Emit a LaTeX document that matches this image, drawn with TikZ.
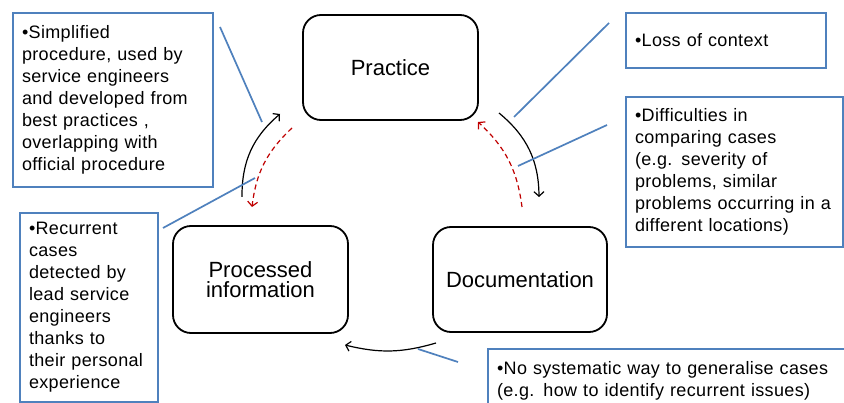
\documentclass[tikz,border=0pt]{standalone}
\usepackage{fontspec}
\setmainfont{Liberation Sans}
\newfontfamily\notefont{Liberation Sans}[LetterSpace=2]
\usepackage{xcolor}
\usepackage{tikz}
\usetikzlibrary{arrows.meta, calc}
\definecolor{CycleBlue}{RGB}{79, 129, 189}
\definecolor{CycleRed}{RGB}{192, 0, 0}

\tikzset{
  stage/.style={draw=black, line width=1.8pt, rounded corners=18pt, fill=white,
    align=center, minimum width=175pt, minimum height=105pt,
    font=\fontsize{22}{20}\selectfont},
  note/.style={draw=CycleBlue, line width=1.7pt, fill=white, align=left,
    inner xsep=9pt, font=\notefont\fontsize{18}{22}\selectfont},
  flow/.style={line width=1.2pt, -{Straight Barb[length=4.5pt,width=10pt]}},
  backflow/.style={flow, CycleRed, dash pattern=on 5pt off 3.5pt},
  pointer/.style={CycleBlue, line width=1.7pt},
}

\begin{document}
\begin{tikzpicture}[x=1pt, y=-1pt]
    \fill[white] (0,0) rectangle (844,403);
    \useasboundingbox (0,0) rectangle (844,403);

    % the three stages of the cycle
    \node[stage] (practice) at (390.5,67.5) {Practice};
    \node[stage, minimum height=107pt] (processed) at (260.5,279.5) {Processed\\information};
    \node[stage, minimum width=174pt] (documentation) at (520,279.5) {Documentation};

    % remarks
    \node[note, text width=182pt, minimum height=174pt] (noteSimplified) at (113,100) {%
      •Simplified\\procedure, used by\\service engineers\\and developed from\\best practices ,\\overlapping with\\official procedure};
    \node[note, text width=120pt, minimum height=189pt] (noteRecurrent) at (89,307.5) {%
      •Recurrent\\cases\\detected by\\lead service\\engineers\\thanks to\\their personal\\experience};
    \node[note, text width=182pt, minimum height=55pt] (noteLoss) at (726,40.5) {•Loss of context};
    \node[note, text width=199pt, minimum height=150pt] (noteCompare) at (734.5,172) {%
      •Difficulties in\\comparing cases\\(e.g. severity of\\problems, similar\\problems occurring in a\\different locations)};
    \node[note, text width=354pt, minimum height=64pt] (noteGeneral) at (674,381) {%
      •No systematic way to generalise cases\\(e.g. how to identify recurrent issues)};

    % ends of the arrows
    \coordinate (upFrom) at (242,197);
    \coordinate (upTo) at (280,114);
    \coordinate (downFrom) at (292,128);
    \coordinate (downTo) at (252,207);
    \coordinate (docFrom) at (499,113);
    \coordinate (docTo) at (539,197);
    \coordinate (backFrom) at (522,207);
    \coordinate (backTo) at (478,122);
    \coordinate (procFrom) at (436,343);
    \coordinate (procTo) at (345,345);

    \draw[flow] (upFrom) to[bend left=25] (upTo);
    \draw[backflow] (downFrom) to[bend right=20] (downTo);
    \draw[flow] (docFrom) to[bend left=25] (docTo);
    \draw[backflow] (backFrom) to[bend right=20] (backTo);
    \draw[flow] (procFrom) to[bend left=15] (procTo);

    % pointers from the remarks
    \coordinate (ptSimplified) at (220,27);
    \coordinate (ptRecurrent) at (163,228);
    \coordinate (ptLoss) at (609,23);
    \coordinate (ptCompare) at (607,125);
    \coordinate (ptGeneral) at (458,362);

    \draw[pointer] (ptSimplified) -- (262,122);
    \draw[pointer] (ptRecurrent) -- (255,178);
    \draw[pointer] (ptLoss) -- (514,117);
    \draw[pointer] (ptCompare) -- (518,166);
    \draw[pointer] (ptGeneral) -- (418,349);
  \end{tikzpicture}
\end{document}
